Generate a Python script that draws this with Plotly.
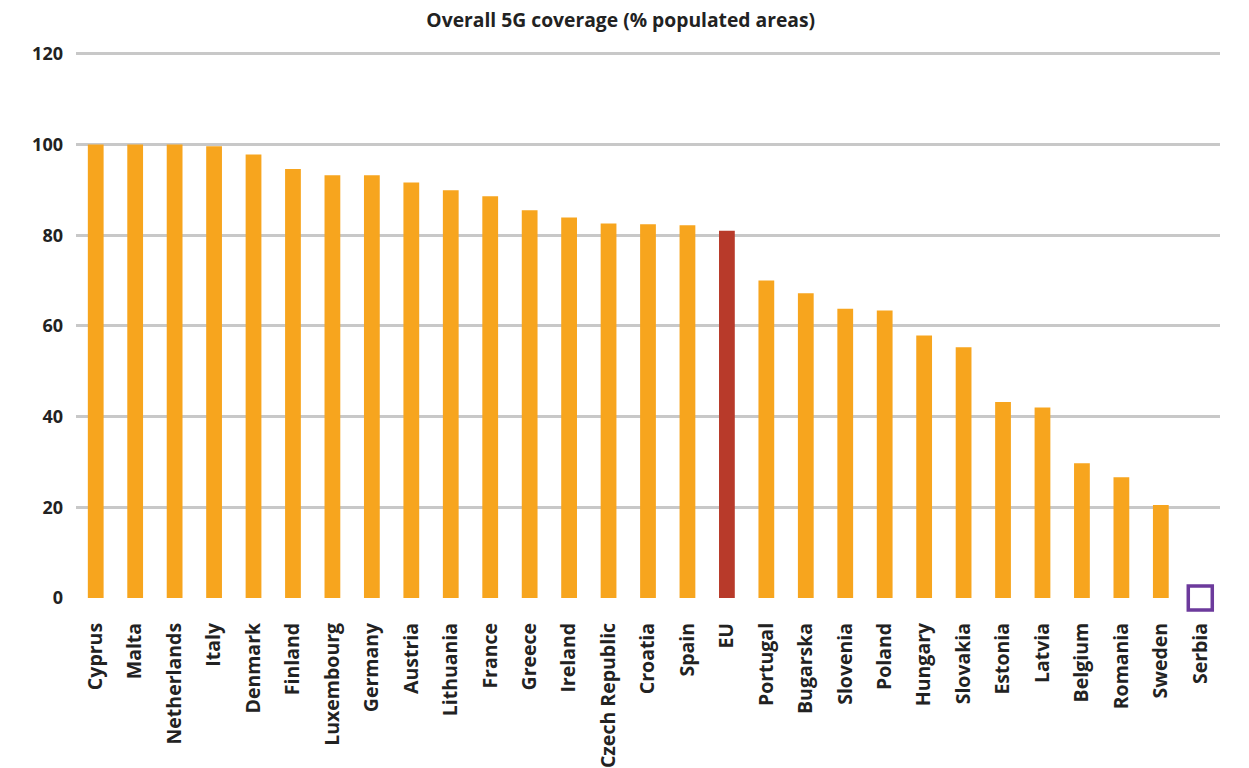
import plotly.graph_objects as go

countries = ["Cyprus", "Malta", "Netherlands", "Italy", "Denmark", "Finland", "Luxembourg",
             "Germany", "Austria", "Lithuania", "France", "Greece", "Ireland", "Czech Republic",
             "Croatia", "Spain", "EU", "Portugal", "Bugarska", "Slovenia", "Poland", "Hungary",
             "Slovakia", "Estonia", "Latvia", "Belgium", "Romania", "Sweden", "Serbia"]
coverage = [100, 100, 100, 99.6, 97.8, 94.6, 93.2, 93.2, 91.6, 89.9, 88.6, 85.5, 83.9, 82.6,
            82.4, 82.2, 81.0, 70.0, 67.2, 63.8, 63.4, 57.9, 55.3, 43.2, 42.0, 29.7, 26.6, 20.5, 0]
y_ticks = [0, 20, 40, 60, 80, 100, 120]

ORANGE = "#F7A51E"
RED = "#B83A2A"
PURPLE = "#6C3A9C"
TEXT = "#222222"
FONT = "Open Sans"

bar_x = [c for c in countries if c != "Serbia"]
bar_y = [v for c, v in zip(countries, coverage) if c != "Serbia"]
bar_colors = [RED if c == "EU" else ORANGE for c in bar_x]

fig = go.Figure()
fig.add_trace(go.Bar(x=bar_x, y=bar_y, marker=dict(color=bar_colors, line=dict(width=0)),
                     width=0.4, showlegend=False))
# Serbia has no coverage: shown as an empty marker on the baseline
fig.add_trace(go.Scatter(x=["Serbia"], y=[coverage[countries.index("Serbia")]], mode="markers",
                         marker=dict(symbol="square-open", size=24, color=PURPLE,
                                     line=dict(width=3.5, color=PURPLE)),
                         showlegend=False, cliponaxis=False))

fig.update_layout(
    width=1249, height=768,
    margin=dict(l=76, r=29, t=52, b=170),
    paper_bgcolor="white", plot_bgcolor="white",
    font=dict(family=FONT, color=TEXT),
    title=dict(text="<b>Overall 5G coverage (% populated areas)</b>", x=0.497, xanchor="center",
               y=0.974, yanchor="middle", font=dict(size=19.3, color=TEXT, family=FONT)),
    bargap=0.6,
)
fig.update_xaxes(categoryorder="array", categoryarray=countries, range=[-0.5, 28.5],
                 tickangle=-90, showgrid=False, showline=False, ticks="",
                 ticklabelstandoff=20, automargin=False,
                 tickfont=dict(size=19.5, family=FONT, color=TEXT, weight="bold"))
fig.update_yaxes(range=[0, 120.4], tickvals=y_ticks, showgrid=True, gridcolor="#C8C8C8",
                 gridwidth=3, zeroline=False, showline=False, ticks="",
                 ticklabelstandoff=12, automargin=False,
                 tickfont=dict(size=18, family=FONT, color=TEXT, weight="bold"))

fig.write_html("out.html")
